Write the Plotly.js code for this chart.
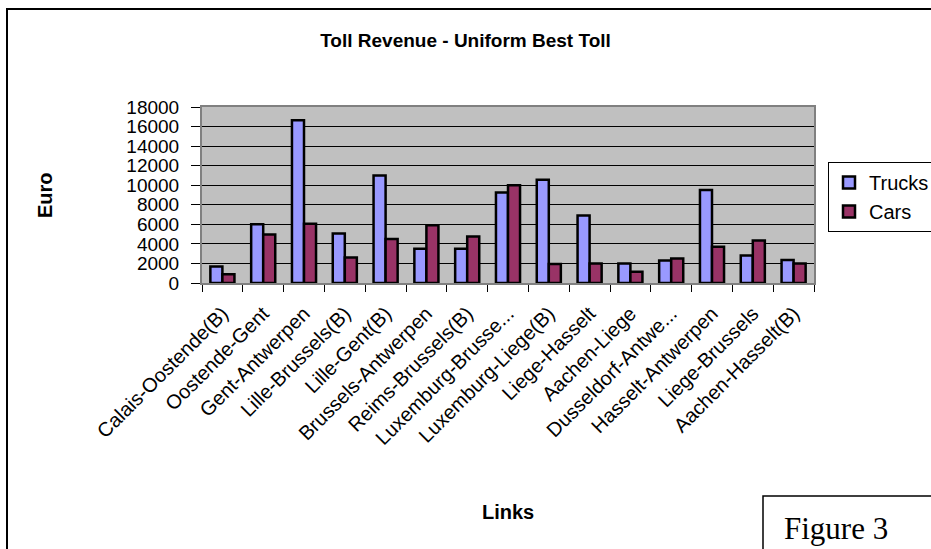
<!DOCTYPE html>
<html>
<head>
<meta charset="utf-8">
<script src="https://cdn.plot.ly/plotly-3.0.1.min.js"></script>
<style>
  html, body { margin: 0; padding: 0; background: #fff; }
  #chart { width: 931px; height: 549px; }
</style>
</head>
<body>
<div id="chart"></div>
<script>
// Road links and the toll revenue (Euro) collected on each
const links = [
  "Calais-Oostende(B)", "Oostende-Gent", "Gent-Antwerpen", "Lille-Brussels(B)",
  "Lille-Gent(B)", "Brussels-Antwerpen", "Reims-Brussels(B)", "Luxemburg-Brusse...",
  "Luxemburg-Liege(B)", "Liege-Hasselt", "Aachen-Liege", "Dusseldorf-Antwe...",
  "Hasselt-Antwerpen", "Liege-Brussels", "Aachen-Hasselt(B)"
];
const trucks = [1700, 6000, 16650, 5050, 11000, 3500, 3500, 9250, 10550, 6900, 2000, 2300, 9500, 2800, 2350];
const cars   = [900, 4950, 6050, 2600, 4500, 5900, 4750, 10000, 1950, 2000, 1150, 2500, 3700, 4350, 2000];
const yTicks = [0, 2000, 4000, 6000, 8000, 10000, 12000, 14000, 16000, 18000];

// plot area in pixels
const L = 202, R = 814, T = 107, B = 283;
const W = 931, H = 549;
const px = p => (p - L) / (R - L);
const py = p => (B - p) / (B - T);

const sans = "Liberation Sans, Arial, sans-serif";
const serif = "Liberation Serif, Times New Roman, serif";

const traces = [
  {
    type: "bar", name: "Trucks", x: links, y: trucks,
    marker: { color: "#9999FF", line: { color: "#000", width: 2.5 } },
    hoverinfo: "x+y+name"
  },
  {
    type: "bar", name: "Cars", x: links, y: cars,
    marker: { color: "#993366", line: { color: "#000", width: 2.5 } },
    hoverinfo: "x+y+name"
  }
];

const layout = {
  width: W, height: H,
  margin: { l: L, r: W - R, t: T, b: H - B, autoexpand: false },
  paper_bgcolor: "#fff",
  plot_bgcolor: "#C0C0C0",
  barmode: "group",
  bargap: 0.41,
  bargroupgap: 0,
  font: { family: sans, size: 19, color: "#000" },
  title: {
    text: "<b>Toll Revenue - Uniform Best Toll</b>",
    font: { family: sans, size: 19, color: "#000" },
    xref: "container", yref: "container",
    x: 0.5, y: 1 - 40 / H, xanchor: "center", yanchor: "middle"
  },
  xaxis: {
    type: "category",
    tickson: "boundaries",
    ticks: "outside", ticklen: 7, tickcolor: "#000", tickwidth: 1,
    tickangle: -45,
    ticklabelstandoff: 9,
    tickfont: { family: sans, size: 20, color: "#000" },
    showgrid: false,
    showline: true, linecolor: "#808080", linewidth: 2, mirror: true,
    fixedrange: true
  },
  yaxis: {
    range: [0, 18000],
    tickvals: yTicks,
    ticktext: yTicks.map(String),
    ticks: "outside", ticklen: 9, tickcolor: "#000", tickwidth: 1,
    ticklabelstandoff: 8,
    tickfont: { family: sans, size: 19, color: "#000" },
    showgrid: true, gridcolor: "#000", gridwidth: 1,
    zeroline: false,
    showline: true, linecolor: "#808080", linewidth: 2, mirror: true,
    fixedrange: true
  },
  showlegend: true,
  legend: {
    x: px(828), y: py(162), xanchor: "left", yanchor: "top",
    bgcolor: "#fff", bordercolor: "#000", borderwidth: 1,
    font: { family: sans, size: 20, color: "#000" },
    itemwidth: 30,
    traceorder: "normal"
  },
  annotations: [
    {
      text: "<b>Euro</b>", textangle: -90,
      xref: "paper", yref: "paper", x: px(45), y: py(195),
      xanchor: "center", yanchor: "middle", showarrow: false,
      font: { family: sans, size: 20, color: "#000" }
    },
    {
      text: "<b>Links</b>",
      xref: "paper", yref: "paper", x: px(508), y: py(512),
      xanchor: "center", yanchor: "middle", showarrow: false,
      font: { family: sans, size: 20, color: "#000" }
    },
    {
      text: "Figure 3",
      xref: "paper", yref: "paper", x: px(782), y: py(528),
      xanchor: "left", yanchor: "middle", showarrow: false,
      font: { family: serif, size: 31, color: "#000" }
    }
  ],
  shapes: [
    {
      type: "rect", xref: "paper", yref: "paper",
      x0: px(7), x1: px(980), y0: py(9), y1: py(620),
      line: { color: "#000", width: 2 }, fillcolor: "rgba(0,0,0,0)"
    },
    {
      type: "rect", xref: "paper", yref: "paper",
      x0: px(763), x1: px(980), y0: py(496), y1: py(620),
      line: { color: "#000", width: 1.5 }, fillcolor: "#fff"
    }
  ]
};

Plotly.newPlot("chart", traces, layout, { displayModeBar: false, staticPlot: true });
</script>
</body>
</html>
